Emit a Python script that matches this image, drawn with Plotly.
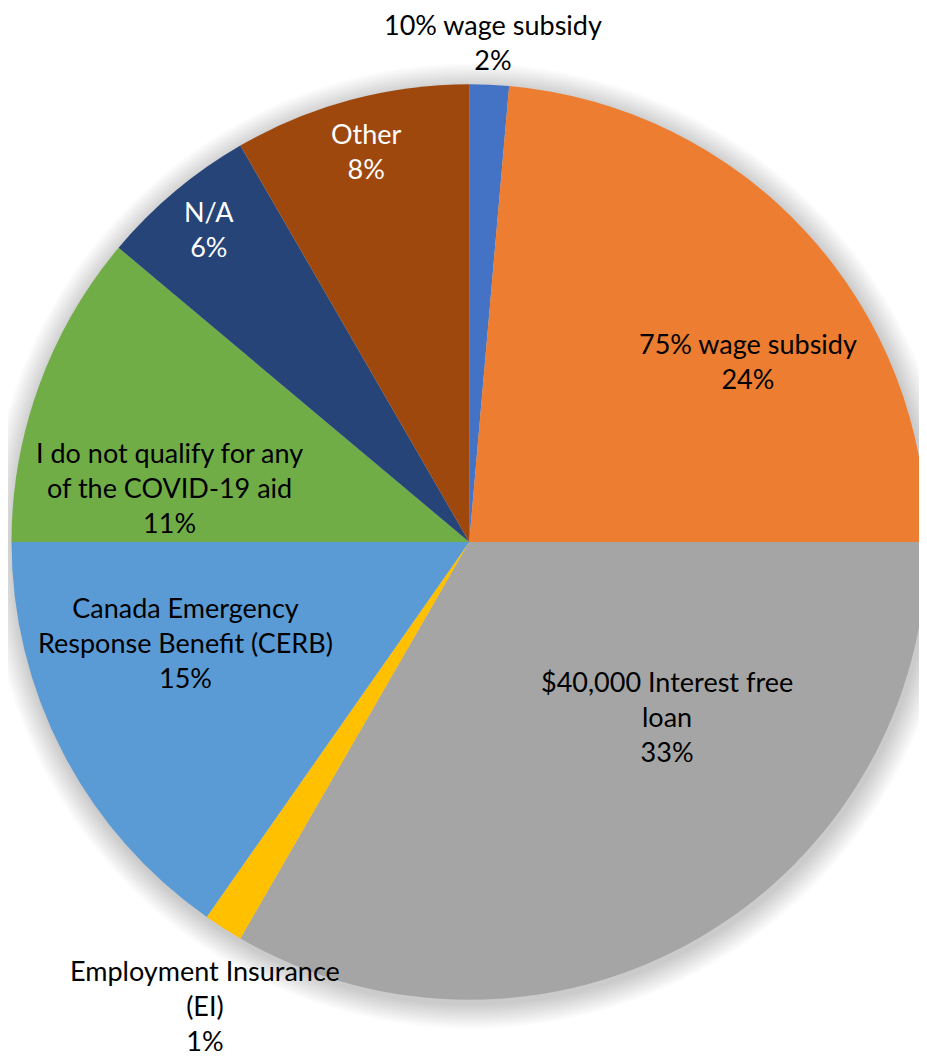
import plotly.graph_objects as go

# ---- data ----
categories = [
    "10% wage subsidy",
    "75% wage subsidy",
    "$40,000 Interest free loan",
    "Employment Insurance (EI)",
    "Canada Emergency Response Benefit (CERB)",
    "I do not qualify for any of the COVID-19 aid",
    "N/A",
    "Other",
]
counts = [1, 17, 24, 1, 11, 8, 4, 6]
pct_labels = ["2%", "24%", "33%", "1%", "15%", "11%", "6%", "8%"]
wrapped_names = [
    "10% wage subsidy",
    "75% wage subsidy",
    "$40,000 Interest free<br>loan",
    "Employment Insurance<br>(EI)",
    "Canada Emergency<br>Response Benefit (CERB)",
    "I do not qualify for any<br>of the COVID-19 aid",
    "N/A",
    "Other",
]
colors = ["#4472C4", "#ED7D31", "#A5A5A5", "#FFC000",
          "#5B9BD5", "#70AD47", "#264478", "#9E480E"]
text_colors = ["black", "black", "black", "black",
               "black", "black", "white", "white"]

# ---- layout geometry ----
# the page body adds an 8px margin, so the figure is drawn 8px in from the
# window's top-left corner; all screen positions below are shifted by it.
OFF = 8
W, H = 927 - OFF, 1057 - OFF
CX, CY, R = 472.5 - OFF, 542.0 - OFF, 461.0
FONT = "Lato"
FS = 27

# label centres in screen pixels (label placement, not data)
label_pos = [
    (493, 42), (748, 361), (667, 716), (205, 1005),
    (185, 642), (169, 487), (209, 229), (366, 151),
]

fig = go.Figure()
fig.add_trace(go.Pie(
    labels=categories,
    values=counts,
    sort=False,
    direction="clockwise",
    rotation=0,
    marker=dict(colors=colors, line=dict(width=0)),
    textinfo="none",
    hoverinfo="label+percent",
    showlegend=False,
    domain=dict(x=[max(0.0, (CX - R) / W), min(1.0, (CX + R) / W)],
                y=[max(0.0, 1 - (CY + R) / H), min(1.0, 1 - (CY - R) / H)]),
))

# soft drop shadow around the pie
R_eff = (W - max(0.0, CX - R)) / 2
CXe = max(0.0, CX - R) + R_eff
shapes = []
n_rings = 13
for k in range(1, n_rings + 1):
    rr = R_eff + 1.9 * k
    ox, oy = CXe + 2, CY + 4
    shapes.append(dict(
        type="circle", xref="paper", yref="paper", layer="below",
        x0=(ox - rr) / W, x1=(ox + rr) / W,
        y0=1 - (oy + rr) / H, y1=1 - (oy - rr) / H,
        fillcolor="rgba(0,0,0,0.017)", line=dict(width=0),
    ))

annotations = []
for name, pct, col, (px, py) in zip(wrapped_names, pct_labels, text_colors, label_pos):
    annotations.append(dict(
        text=f"{name}<br>{pct}",
        x=(px - OFF) / W, y=1 - (py - OFF) / H, xref="paper", yref="paper",
        xanchor="center", yanchor="middle", align="center",
        showarrow=False,
        font=dict(family=FONT, size=FS, color=col),
    ))

fig.update_layout(
    width=W, height=H,
    margin=dict(l=0, r=0, t=0, b=0),
    paper_bgcolor="white",
    plot_bgcolor="white",
    shapes=shapes,
    annotations=annotations,
)

fig.write_html("out.html")
